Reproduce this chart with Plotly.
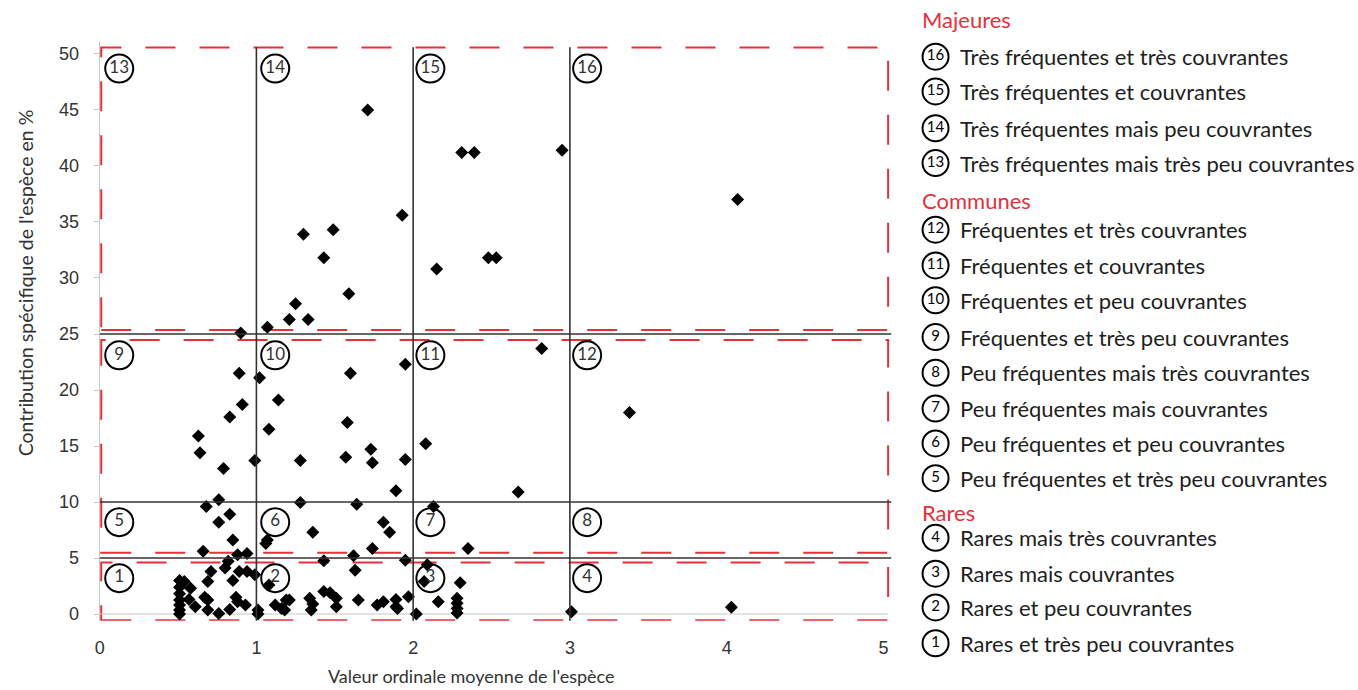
import plotly.graph_objects as go

# ---------------- data ----------------
x_vals = [1.71, 2.31, 2.39, 2.95, 1.93, 1.49, 1.30, 1.43, 2.15, 2.48, 2.53, 1.59, 1.25, 1.21, 1.33, 1.07, 0.90,
          4.07,
          2.82, 3.38, 2.67,
          0.89, 1.02, 1.14, 0.91, 0.83, 1.08, 0.63, 0.64, 0.79, 0.99, 0.76, 0.68,
          1.95, 1.60, 1.58, 2.08, 1.73, 1.57, 1.74, 1.95, 1.28, 1.89, 1.28, 1.64, 2.13,
          0.83, 0.76, 0.85, 1.07, 1.06, 0.66, 0.88, 0.94, 0.82, 0.80, 0.71, 0.89, 0.94, 0.99,
          0.69, 0.85, 0.51, 0.54, 0.51, 0.58, 0.51, 0.57, 0.67, 0.69, 0.87, 0.88, 0.93,
          0.51, 0.51, 0.51, 0.51, 0.61, 0.69, 0.76, 0.83, 1.01, 1.01, 1.12, 1.16, 1.08, 1.19,
          1.36, 1.81, 1.85, 1.74, 1.62, 1.43, 1.95, 2.35, 1.63, 2.30, 2.09, 2.07,
          1.21, 1.34, 1.36, 1.35, 1.43, 1.47, 1.51, 1.51, 1.65, 1.77, 1.81, 1.89, 1.89, 1.90,
          1.97, 2.02, 2.16, 2.28, 2.28, 2.28, 2.28, 1.18,
          3.01, 4.03]
y_vals = [45.0, 41.2, 41.2, 41.4, 35.6, 34.3, 33.9, 31.8, 30.8, 31.8, 31.8, 28.6, 27.7, 26.3, 26.3, 25.6, 25.1,
          37.0,
          23.7, 18.0, 10.9,
          21.5, 21.1, 19.1, 18.7, 17.6, 16.5, 15.9, 14.4, 13.0, 13.7, 10.2, 9.6,
          22.3, 21.5, 17.1, 15.2, 14.7, 14.0, 13.5, 13.8, 13.7, 11.0, 9.95, 9.8, 9.6,
          8.9, 8.2, 6.6, 6.6, 6.3, 5.6, 5.3, 5.4, 4.7, 4.1, 3.8, 3.8, 3.8, 3.5,
          2.9, 3.0, 3.0, 2.9, 2.4, 2.3, 1.8, 1.3, 1.5, 1.25, 1.5, 1.1, 0.8,
          1.25, 0.8, 0.35, 0.0, 0.65, 0.35, 0.05, 0.4, 0.35, 0.0, 0.8, 0.5, 2.6, 1.25,
          7.3, 8.2, 7.3, 5.85, 5.2, 4.75, 4.8, 5.85, 3.9, 2.8, 4.4, 2.9,
          1.25, 1.4, 0.9, 0.35, 2.0, 1.9, 1.4, 0.65, 1.25, 0.8, 1.1, 1.3, 0.65, 0.5,
          1.55, 0.0, 1.1, 1.4, 0.95, 0.5, 0.1, 0.35,
          0.2, 0.6]

x_ticks = [0, 1, 2, 3, 4, 5]
y_ticks = [0, 5, 10, 15, 20, 25, 30, 35, 40, 45, 50]

x_thresholds = [1, 2, 3]
y_thresholds = [5, 10, 25]

zone_ids = [13, 14, 15, 16, 9, 10, 11, 12, 5, 6, 7, 8, 1, 2, 3, 4]
zone_x = [0.125, 1.12, 2.11, 3.11] * 4
zone_y = [48.7] * 4 + [23.1] * 4 + [8.2] * 4 + [3.2] * 4

groups = ["Majeures", "Communes", "Rares"]
group_items = [
    [(16, "Très fréquentes et très couvrantes"),
     (15, "Très fréquentes et couvrantes"),
     (14, "Très fréquentes mais peu couvrantes"),
     (13, "Très fréquentes mais très peu couvrantes")],
    [(12, "Fréquentes et très couvrantes"),
     (11, "Fréquentes et couvrantes"),
     (10, "Fréquentes et peu couvrantes"),
     (9, "Fréquentes et très peu couvrantes"),
     (8, "Peu fréquentes mais très couvrantes"),
     (7, "Peu fréquentes mais couvrantes"),
     (6, "Peu fréquentes et peu couvrantes"),
     (5, "Peu fréquentes et très peu couvrantes")],
    [(4, "Rares mais très couvrantes"),
     (3, "Rares mais couvrantes"),
     (2, "Rares et peu couvrantes"),
     (1, "Rares et très peu couvrantes")],
]
group_title_y = [20, 202, 515]
item_rows = [[57, 92, 129, 164],
             [231, 267, 302, 339, 375, 411, 446, 481],
             [541, 577, 611, 647]]

# ---------------- layout geometry ----------------
W, H = 1358, 690
RED = "#e8303a"
DARK = "#333333"

x_range = [0, 5.08]
y_range = [-0.6, 51.2]
X0, XS = 95, 157.33
Y0, YS = 617.6, 11.266
px_left, px_right = X0, X0 + x_range[1] * XS
px_top, px_bottom = Y0 - y_range[1] * YS, Y0 - y_range[0] * YS

fig = go.Figure()

fig.add_trace(go.Scatter(
    x=x_vals, y=y_vals, mode="markers",
    marker=dict(symbol="diamond", size=10, color="black"),
    showlegend=False, hoverinfo="x+y"))

fig.add_trace(go.Scatter(
    x=zone_x, y=zone_y, mode="markers+text",
    text=[str(z) for z in zone_ids], textposition="middle center",
    textfont=dict(family="Lato", size=17, color=DARK),
    marker=dict(symbol="circle", size=28, color="rgba(255,255,255,0)",
                line=dict(color="black", width=2)),
    showlegend=False, hoverinfo="skip"))

# legend area (pixel-like axes)
leg_x, leg_y, leg_t = [], [], []
for items, rows in zip(group_items, item_rows):
    for (num, _), ry in zip(items, rows):
        leg_x.append(934)
        leg_y.append(ry)
        leg_t.append(str(num))
fig.add_trace(go.Scatter(
    x=leg_x, y=leg_y, xaxis="x2", yaxis="y2", mode="markers+text",
    text=leg_t, textposition="middle center",
    textfont=dict(family="Lato", size=15, color="black"),
    marker=dict(symbol="circle", size=26, color="rgba(255,255,255,0)",
                line=dict(color="black", width=2)),
    showlegend=False, hoverinfo="skip"))

annotations = []
for g, gy in zip(groups, group_title_y):
    annotations.append(dict(x=918, y=gy, xref="x2", yref="y2", text=g, showarrow=False,
                            xanchor="left", yanchor="middle",
                            font=dict(family="Lato", size=22, color=RED)))
for items, rows in zip(group_items, item_rows):
    for (num, label), ry in zip(items, rows):
        annotations.append(dict(x=957, y=ry, xref="x2", yref="y2", text=label, showarrow=False,
                                xanchor="left", yanchor="middle",
                                font=dict(family="Lato", size=22, color="#1e1e1e")))

annotations.append(dict(x=468 / W, y=1 - 680 / H, xref="paper", yref="paper",
                        text="Valeur ordinale moyenne de l'espèce", showarrow=False,
                        xanchor="center", yanchor="middle",
                        font=dict(family="Lato", size=18, color=DARK)))
annotations.append(dict(x=20 / W, y=1 - 284 / H, xref="paper", yref="paper",
                        text="Contribution spécifique de l'espèce en %", showarrow=False,
                        textangle=-90, xanchor="center", yanchor="middle",
                        font=dict(family="Lato", size=19.5, color=DARK)))

shapes = []
# red dashed boxes
for y0, y1 in [(25.36, 50.58), (5.48, 24.46), (-0.55, 4.59)]:
    shapes.append(dict(type="rect", xref="x", yref="y", x0=0.01, x1=5.03, y0=y0, y1=y1,
                       line=dict(color=RED, width=2, dash="30px,24px"), layer="below"))
# x-axis baseline
shapes.append(dict(type="line", xref="x", yref="y", x0=0, x1=5.03, y0=0, y1=0,
                   line=dict(color="#c8c8c8", width=1.2), layer="below"))
# black threshold lines
for xv in x_thresholds:
    shapes.append(dict(type="line", xref="x", yref="y", x0=xv, x1=xv, y0=-1.2, y1=50.6,
                       line=dict(color=DARK, width=1.6)))
for yv in y_thresholds:
    shapes.append(dict(type="line", xref="x", yref="y", x0=0, x1=5.05, y0=yv, y1=yv,
                       line=dict(color=DARK, width=1.6)))

fig.update_layout(
    width=W, height=H,
    margin=dict(l=0, r=0, t=0, b=0),
    paper_bgcolor="white", plot_bgcolor="white",
    xaxis=dict(domain=[px_left / W, px_right / W], range=x_range,
               tickvals=x_ticks, ticktext=[str(v) for v in x_ticks],
               showgrid=False, zeroline=False, showline=False,
               ticks="", ticklabelstandoff=14,
               tickfont=dict(family="Liberation Sans", size=18, color=DARK)),
    yaxis=dict(domain=[1 - px_bottom / H, 1 - px_top / H], range=y_range,
               tickvals=y_ticks, ticktext=[str(v) for v in y_ticks],
               showgrid=False, zeroline=False, showline=True, linecolor="#c8c8c8", linewidth=1.2,
               ticks="outside", ticklen=5, tickcolor="#c8c8c8", ticklabelstandoff=11,
               tickfont=dict(family="Liberation Sans", size=18, color=DARK)),
    xaxis2=dict(domain=[900 / W, 1], range=[900, W], visible=False, anchor="y2"),
    yaxis2=dict(domain=[0, 1], range=[H, 0], visible=False, anchor="x2"),
    shapes=shapes,
    annotations=annotations,
)

fig.write_html("out.html", config={"displayModeBar": False},
               post_script="document.body.style.margin='0';document.body.style.overflow='hidden';")
